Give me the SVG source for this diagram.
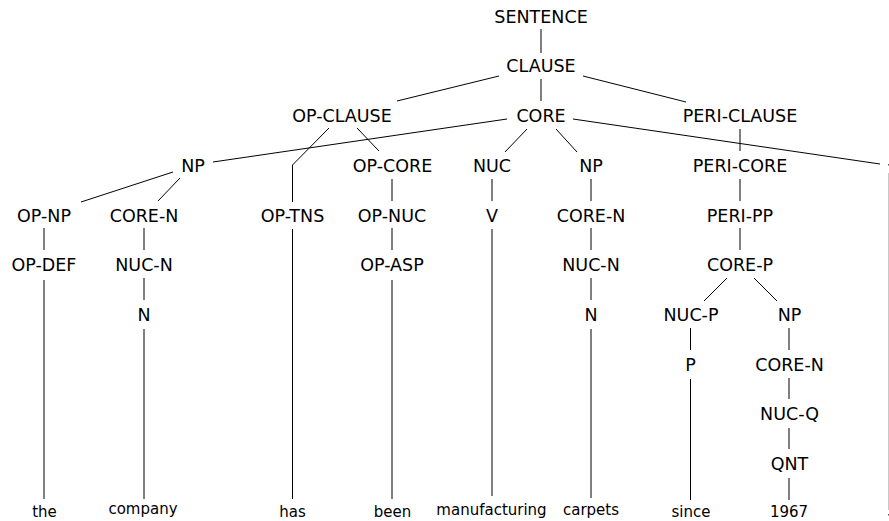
<svg xmlns="http://www.w3.org/2000/svg" width="889" height="521" viewBox="0 0 889 521">
<style>
.l{font-family:"DejaVu Sans",sans-serif;font-size:17.5px;fill:#000;text-anchor:middle}
.w{font-family:"DejaVu Sans",sans-serif;font-size:15px;fill:#000;text-anchor:middle}
.e{stroke:#000;stroke-width:1;fill:none}
</style>
<rect width="889" height="521" fill="#fff"/>
<g id="connectors" class="e">
<line x1="541" y1="29" x2="541" y2="53"/>
<line x1="541" y1="79" x2="541" y2="101"/>
<line x1="499" y1="76" x2="397" y2="101"/>
<line x1="583" y1="76" x2="686" y2="102"/>
<line x1="507" y1="119" x2="213" y2="162"/>
<line x1="527" y1="129" x2="505" y2="152"/>
<line x1="556" y1="129" x2="577" y2="152"/>
<line x1="573" y1="119" x2="880" y2="164"/>
<polyline points="329,128 292.5,165 292.5,202"/>
<line x1="357" y1="128" x2="379" y2="151"/>
<line x1="740" y1="129" x2="740" y2="151"/>
<line x1="173" y1="172" x2="81" y2="202"/>
<line x1="180" y1="178" x2="158" y2="201"/>
<line x1="392" y1="179" x2="392" y2="201"/>
<line x1="492" y1="179" x2="492" y2="201"/>
<line x1="591" y1="179" x2="591" y2="201"/>
<line x1="740" y1="179" x2="740" y2="201"/>
<line x1="44" y1="228" x2="44" y2="250"/>
<line x1="144" y1="228" x2="144" y2="250"/>
<line x1="392" y1="228" x2="392" y2="250"/>
<line x1="591" y1="228" x2="591" y2="250"/>
<line x1="740" y1="228" x2="740" y2="250"/>
<line x1="144" y1="278" x2="144" y2="300"/>
<line x1="591" y1="278" x2="591" y2="300"/>
<line x1="727" y1="278" x2="704" y2="301"/>
<line x1="754" y1="278" x2="777" y2="301"/>
<line x1="690.5" y1="328" x2="690.5" y2="350"/>
<line x1="789" y1="328" x2="789" y2="350"/>
<line x1="789" y1="378" x2="789" y2="399"/>
<line x1="789" y1="428" x2="789" y2="449"/>
<line x1="789" y1="478" x2="789" y2="500"/>
<line x1="44" y1="280" x2="44" y2="499"/>
<line x1="144" y1="329" x2="144" y2="499"/>
<line x1="292.5" y1="229" x2="292.5" y2="499"/>
<line x1="392" y1="280" x2="392" y2="499"/>
<line x1="492" y1="229" x2="492" y2="496"/>
<line x1="591" y1="329" x2="591" y2="498"/>
<line x1="690.5" y1="379" x2="690.5" y2="500"/>
<line x1="888.5" y1="173" x2="888.5" y2="510" stroke="#c8c8c8"/>
</g>
<g id="clipped-marks" fill="#555">
<rect x="888" y="164" width="1" height="1.5"/>
<rect x="888" y="514" width="1" height="1.5"/>
</g>
<g id="n_sentence"><text class="l" x="541" y="23">SENTENCE</text></g>
<g id="n_clause"><text class="l" x="541" y="72">CLAUSE</text></g>
<g id="n_opclause"><text class="l" x="342" y="122">OP-CLAUSE</text></g>
<g id="n_core"><text class="l" x="541" y="122">CORE</text></g>
<g id="n_periclause"><text class="l" x="740" y="122">PERI-CLAUSE</text></g>
<g id="n_np1"><text class="l" x="193" y="172">NP</text></g>
<g id="n_opcore"><text class="l" x="392.5" y="172">OP-CORE</text></g>
<g id="n_nuc"><text class="l" x="492" y="172">NUC</text></g>
<g id="n_np2"><text class="l" x="591" y="172">NP</text></g>
<g id="n_pericore"><text class="l" x="740" y="172">PERI-CORE</text></g>
<g id="n_opnp"><text class="l" x="44" y="222">OP-NP</text></g>
<g id="n_coren1"><text class="l" x="144" y="222">CORE-N</text></g>
<g id="n_optns"><text class="l" x="292.5" y="222">OP-TNS</text></g>
<g id="n_opnuc"><text class="l" x="392" y="222">OP-NUC</text></g>
<g id="n_v"><text class="l" x="492" y="222">V</text></g>
<g id="n_coren2"><text class="l" x="591" y="222">CORE-N</text></g>
<g id="n_peripp"><text class="l" x="740" y="222">PERI-PP</text></g>
<g id="n_opdef"><text class="l" x="44" y="271">OP-DEF</text></g>
<g id="n_nucn1"><text class="l" x="144" y="271">NUC-N</text></g>
<g id="n_opasp"><text class="l" x="392" y="271">OP-ASP</text></g>
<g id="n_nucn2"><text class="l" x="591" y="271">NUC-N</text></g>
<g id="n_corep"><text class="l" x="740" y="271">CORE-P</text></g>
<g id="n_n1"><text class="l" x="144" y="321">N</text></g>
<g id="n_n2"><text class="l" x="591" y="321">N</text></g>
<g id="n_nucp"><text class="l" x="691" y="321">NUC-P</text></g>
<g id="n_np3"><text class="l" x="789.5" y="321">NP</text></g>
<g id="n_p"><text class="l" x="690.5" y="371">P</text></g>
<g id="n_coren3"><text class="l" x="789.5" y="371">CORE-N</text></g>
<g id="n_nucq"><text class="l" x="789.5" y="420">NUC-Q</text></g>
<g id="n_qnt"><text class="l" x="789.5" y="470">QNT</text></g>
<g id="w_the"><text class="w" x="44.5" y="517">the</text></g>
<g id="w_company"><text class="w" x="143" y="514">company</text></g>
<g id="w_has"><text class="w" x="292.5" y="517">has</text></g>
<g id="w_been"><text class="w" x="392.5" y="517">been</text></g>
<g id="w_manufacturing"><text class="w" x="491.5" y="515">manufacturing</text></g>
<g id="w_carpets"><text class="w" x="591" y="515">carpets</text></g>
<g id="w_since"><text class="w" x="691" y="517">since</text></g>
<g id="w_1967"><text class="w" x="789" y="516.5">1967</text></g>
</svg>
